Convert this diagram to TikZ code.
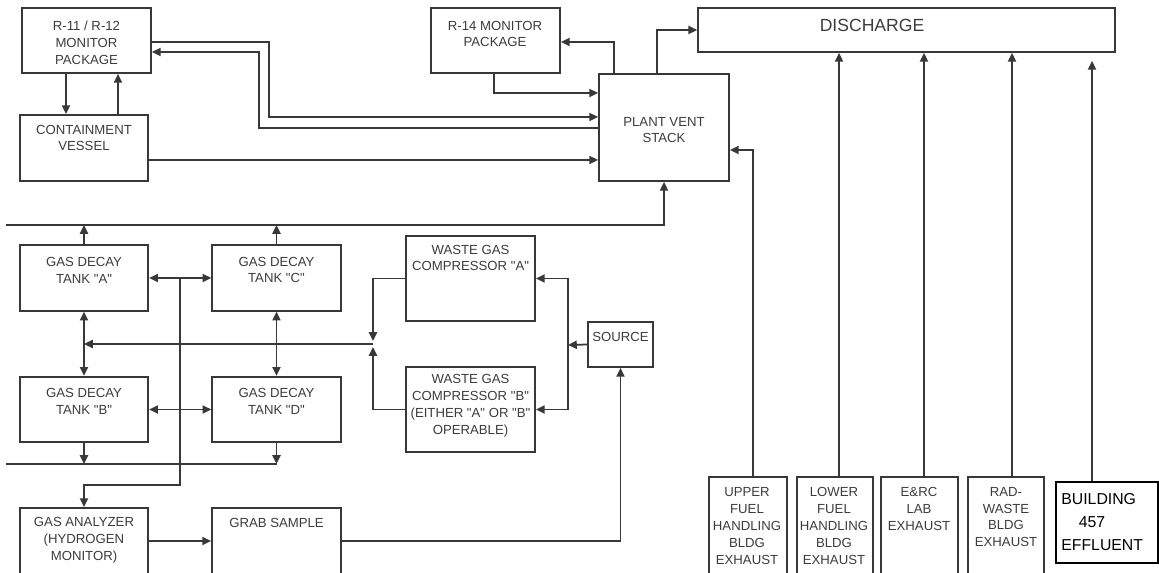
\documentclass[tikz,border=0pt]{standalone}
\usepackage{fontspec}
\setmainfont{Liberation Sans}
\usetikzlibrary{arrows.meta}
\definecolor{linegray}{HTML}{383838}
\definecolor{textgray}{HTML}{3C3C3C}
\newcommand{\qq}[1]{\textquotedbl #1\textquotedbl}
\tikzset{
  box/.style={draw=linegray, line width=1pt, inner sep=0pt},
  lbl/.style={font=\fontsize{7.5}{9.6}\selectfont, text=textgray, align=center, inner sep=0pt},
  flow/.style={draw=linegray, line width=1pt, -{Triangle[length=5pt,width=4.6pt]}},
  both/.style={flow, {Triangle[length=5pt,width=4.6pt]}-{Triangle[length=5pt,width=4.6pt]}},
  plain/.style={draw=linegray, line width=1pt}
}
\begin{document}
\begin{tikzpicture}[x=0.02cm, y=-0.02cm]
\useasboundingbox (0,0) rectangle (1159,573);
\clip (0,0) rectangle (1159,573);
% boxes
\node[box, minimum width=2.58cm, minimum height=1.30cm] (r11) at (86.5,40.5) {};
\node[box, minimum width=2.56cm, minimum height=1.32cm] (cont) at (84,148) {};
\node[box, minimum width=2.58cm, minimum height=1.30cm] (r14) at (495.5,40.5) {};
\node[box, minimum width=2.60cm, minimum height=2.14cm] (stack) at (664,127.5) {};
\node[box, minimum width=8.34cm, minimum height=0.88cm] (disch) at (906.5,30) {};
\node[box, minimum width=2.57cm, minimum height=1.31cm] (tankA) at (84,278) {};
\node[box, minimum width=2.57cm, minimum height=1.31cm] (tankC) at (276.5,278) {};
\node[box, minimum width=2.57cm, minimum height=1.31cm] (tankB) at (84,409.5) {};
\node[box, minimum width=2.57cm, minimum height=1.31cm] (tankD) at (276.5,409.5) {};
\node[box, minimum width=2.58cm, minimum height=1.70cm] (compA) at (470.5,278.5) {};
\node[box, minimum width=2.58cm, minimum height=1.70cm] (compB) at (470.5,409.5) {};
\node[box, minimum width=1.30cm, minimum height=0.90cm] (source) at (620.5,344.5) {};
\node[box, minimum width=2.56cm, minimum height=2.00cm] (anal) at (84,558) {};
\node[box, minimum width=2.58cm, minimum height=2.00cm] (grab) at (276.5,558) {};
\node[box, minimum width=1.56cm, minimum height=2.40cm] (upper) at (748,537) {};
\node[box, minimum width=1.52cm, minimum height=2.40cm] (lower) at (835,537) {};
\node[box, minimum width=1.54cm, minimum height=2.40cm] (erc) at (919.5,537) {};
\node[box, minimum width=1.52cm, minimum height=2.40cm] (rad) at (1006,537) {};
\node[box, draw=black, line width=1.2pt, minimum width=2.04cm, minimum height=1.62cm] (bldg) at (1107,522.5) {};
% texts
\node[lbl] (r11t) at (86.5,43) {R-11 / R-12\\MONITOR\\PACKAGE};
\node[lbl] (contt) at (84,138) {CONTAINMENT\\VESSEL};
\node[lbl] (r14t) at (495,34) {R-14 MONITOR\\PACKAGE};
\node[lbl] (stackt) at (664,130) {PLANT VENT\\STACK};
\node[lbl, font=\fontsize{10}{12}\selectfont] (discht) at (872,25) {DISCHARGE};
\node[lbl] (tankAt) at (84,270) {GAS DECAY\\TANK \qq{A}};
\node[lbl] (tankCt) at (276.5,270) {GAS DECAY\\TANK \qq{C}};
\node[lbl] (tankBt) at (84,401) {GAS DECAY\\TANK \qq{B}};
\node[lbl] (tankDt) at (276.5,401) {GAS DECAY\\TANK \qq{D}};
\node[lbl] (compAt) at (470.5,258) {WASTE GAS\\COMPRESSOR \qq{A}};
\node[lbl] (compBt) at (470.5,406) {WASTE GAS\\COMPRESSOR \qq{B}\\(EITHER \qq{A} OR \qq{B}\\OPERABLE)};
\node[lbl] (sourcet) at (620.5,337) {SOURCE};
\node[lbl] (analt) at (84,540) {GAS ANALYZER\\(HYDROGEN\\MONITOR)};
\node[lbl] (grabt) at (276.5,523) {GRAB SAMPLE};
\node[lbl] (uppert) at (747,526) {UPPER\\FUEL\\HANDLING\\BLDG\\EXHAUST};
\node[lbl] (lowert) at (834,526) {LOWER\\FUEL\\HANDLING\\BLDG\\EXHAUST};
\node[lbl] (erct) at (919,509) {E\&RC\\LAB\\EXHAUST};
\node[lbl] (radt) at (1006,517) {RAD-\\WASTE\\BLDG\\EXHAUST};
\node[lbl, anchor=west, align=left, text=black, font=\fontsize{9}{13.3}\selectfont] (bldgt) at (1061,522) {BUILDING\\\hspace{1.1em}457\\EFFLUENT};
% junctions
\coordinate (topin) at (6,225);
\coordinate (botin) at (6,464);
\coordinate (mix) at (373,344);
\coordinate (split) at (568,345);
% monitors and stack
\draw[flow] (66,0 |- r11.south) -- (66,0 |- cont.north);
\draw[flow] (118,0 |- cont.north) -- (118,0 |- r11.south);
\draw[flow] (r11.east |- 0,42) -| (269,117) -- (stack.west |- 0,117);
\draw[flow] (stack.west |- 0,128) -| (259,52) -- (r11.east |- 0,52);
\draw[flow] (cont.east |- 0,160) -- (stack.west |- 0,160);
\draw[flow] (494,0 |- r14.south) |- (stack.west |- 0,93);
\draw[flow] (614,0 |- stack.north) |- (r14.east |- 0,42);
\draw[flow] (657,0 |- stack.north) |- (disch.west);
\draw[flow] (753,0 |- upper.north) |- (stack.east |- 0,150);
\foreach \n/\x in {lower/839,erc/924,rad/1012}
  \draw[flow] (\x,0 |- \n.north) -- (\x,0 |- disch.south);
\draw[flow] (1092,0 |- bldg.north) -- ([yshift=-0.16cm]1092,0 |- disch.south);
% decay tanks
\draw[flow] (topin) -| (stack.south);
\draw[flow] (tankA.north) -- (tankA.north |- topin);
\draw[flow] (tankC.north) -- (tankC.north |- topin);
\draw[plain] (botin) -- (tankD.south |- botin);
\draw[flow] (tankB.south) -- (tankB.south |- botin);
\draw[flow] (tankD.south) -- (tankD.south |- botin);
\draw[both] (tankA.east) -- (tankC.west);
\draw[both] (tankB.east) -- (tankD.west);
\draw[both] (tankA.south) -- (tankB.north);
\draw[both] (tankC.south) -- (tankD.north);
\draw[flow] (180,0 |- tankA.east) -- (180,485) -| (anal.north);
% compressors
\draw[flow] (compA.west) -| ([yshift=0.06cm]mix);
\draw[flow] (compB.west) -| ([yshift=-0.06cm]mix);
\draw[flow] (mix) -- (tankA.south |- mix);
\draw[flow] (source.west) -- (split);
\draw[flow] (split) |- (compA.east);
\draw[flow] (split) |- (compB.east);
% sampling
\draw[flow] (anal.east |- 0,541) -- (grab.west |- 0,541);
\draw[flow] (grab.east |- 0,541) -| (source.south);
\end{tikzpicture}
\end{document}
